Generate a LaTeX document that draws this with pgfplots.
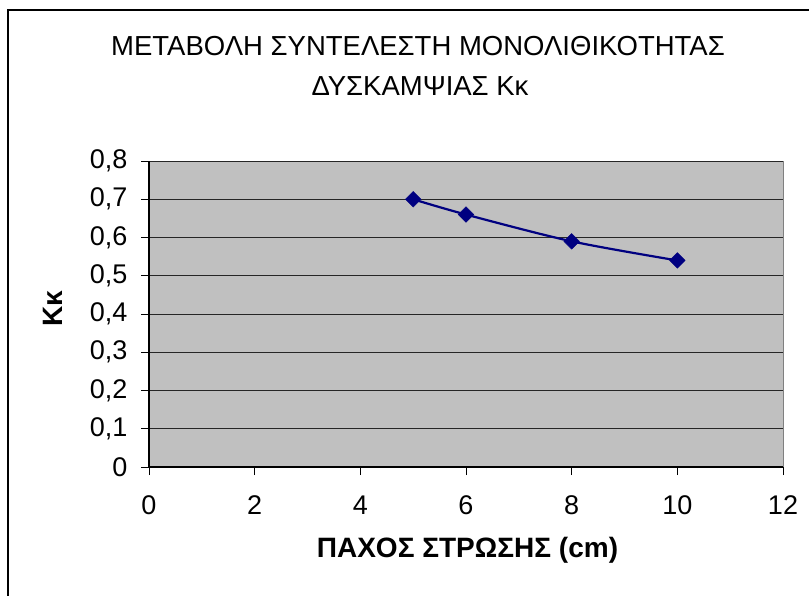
\documentclass[border=0pt]{standalone}
\usepackage{fontspec}
\setmainfont{Liberation Sans}
\usepackage{pgfplots}
\pgfplotsset{compat=1.18}
\definecolor{plotgray}{RGB}{192,192,192}
\definecolor{navyblue}{RGB}{0,0,128}
\begin{document}
\begin{tikzpicture}[x=1pt,y=1pt]
\path[use as bounding box] (0,0) rectangle (809,-596);
\draw[line width=2pt] (8,-600) -- (8,-10) -- (815,-10);
\begin{axis}[
  at={(149pt,-467pt)}, anchor=south west,
  scale only axis, width=634pt, height=306pt,
  xmin=0, xmax=12, ymin=0, ymax=0.8,
  xtick={0,2,4,6,8,10,12},
  ytick={0,0.1,0.2,0.3,0.4,0.5,0.6,0.7,0.8},
  axis lines=left,
  axis line style={-, line width=1.2pt, black},
  tick align=outside, major tick length=8pt,
  tick style={black, line width=1pt},
  ymajorgrids, major grid style={black!85, line width=1pt},
  axis background/.style={fill=plotgray},
  extra x ticks={12}, extra x tick labels={},
  extra x tick style={xmajorgrids=true, major grid style={gray, line width=1pt}, major tick length=0pt},
  tick label style={font=\fontsize{27}{32}\selectfont},
  /pgf/number format/assume math mode=true,
  /pgf/number format/use comma,
  yticklabel style={/pgf/number format/fixed, /pgf/number format/precision=1, anchor=east, xshift=-10pt},
  xticklabel style={anchor=north, yshift=-17pt},
  clip=false,
]
\addplot[navyblue, line width=2.2pt, smooth, tension=0.5,
  mark=square*, mark size=5.5pt,
  mark options={rotate=45, fill=navyblue, draw=navyblue, line width=0.5pt, solid}]
  coordinates {(5,0.70) (6,0.66) (8,0.59) (10,0.54)};
\end{axis}
\node[font=\fontsize{27.5}{32}\selectfont] at (418,-46) {ΜΕΤΑΒΟΛΗ ΣΥΝΤΕΛΕΣΤΗ ΜΟΝΟΛΙΘΙΚΟΤΗΤΑΣ};
\node[font=\fontsize{27.5}{32}\selectfont] at (420,-86) {ΔΥΣΚΑΜΨΙΑΣ Κκ};
\node[font=\fontsize{28}{32}\selectfont\bfseries] at (467.5,-550) {ΠΑΧΟΣ ΣΤΡΩΣΗΣ (cm)};
\node[font=\fontsize{28}{32}\selectfont\bfseries, rotate=90] at (53,-309) {Kκ};
\end{tikzpicture}
\end{document}
